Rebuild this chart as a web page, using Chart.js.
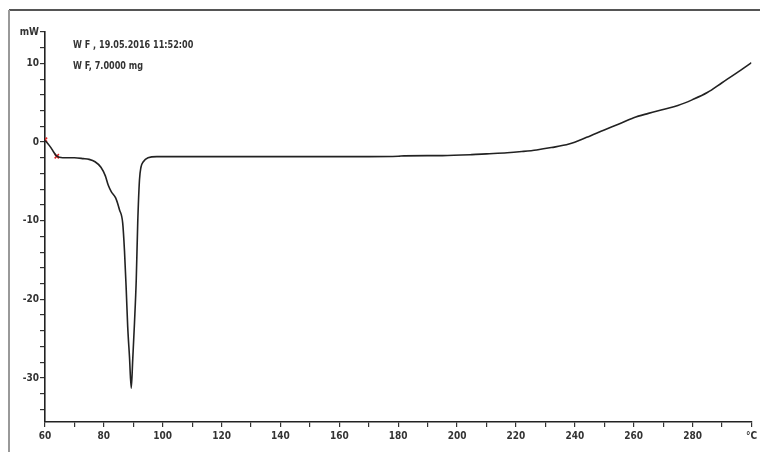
<!DOCTYPE html>
<html>
<head>
<meta charset="utf-8">
<script src="https://cdn.jsdelivr.net/npm/chart.js@4/dist/chart.umd.min.js"></script>
<style>
  html, body { margin: 0; padding: 0; background: #fff; }
  #wrap { width: 760px; height: 452px; }
</style>
</head>
<body>
<div id="wrap"><canvas id="dscChart" width="760" height="452"></canvas></div>
<script>
// DSC curve, temperature (°C) vs heat flow (mW)
const temps = [60, 61, 62, 63, 64, 66, 70, 73, 75, 77, 79, 80.5, 81.5, 82.5, 84, 85.3,
  86.4, 87.0, 87.6, 88.1, 88.7, 89.3, 89.8, 90.4, 91.0, 91.5, 92.1, 92.6, 93.4, 95, 98,
  110, 130, 150, 170, 180, 182, 195, 205, 210, 217, 222, 227, 232, 238, 244, 250, 255,
  260, 265, 270, 275, 280, 285, 290, 295, 300];
const heatFlow = [0.2, -0.2, -0.7, -1.3, -1.8, -2.0, -2.0, -2.1, -2.2, -2.5, -3.2, -4.3,
  -5.5, -6.3, -7.1, -8.6, -10.3, -13.8, -18.8, -23.5, -27.3, -31.3, -27.7, -23.0, -17.5,
  -10.3, -4.8, -3.2, -2.5, -2.0, -1.85, -1.85, -1.85, -1.85, -1.85, -1.8, -1.75, -1.72,
  -1.6, -1.5, -1.36, -1.2, -1.0, -0.7, -0.25, 0.6, 1.55, 2.3, 3.1, 3.65, 4.15, 4.65, 5.4,
  6.3, 7.55, 8.8, 10.1];
// red evaluation markers
const markerTemps = [60, 64];
const markerFlow = [0.3, -1.8];
const yTickLabels = { 14: "mW", 10: "10", 0: "0", "-10": "-10", "-20": "-20", "-30": "-30" };
const headerLines = ["W F , 19.05.2016 11:52:00", "W F, 7.0000 mg"];

const fontFamily = "'DejaVu Sans Condensed', sans-serif";

const framePlugin = {
  id: "frame",
  beforeDraw(chart) {
    const c = chart.ctx;
    c.save();
    c.fillStyle = "#fff";
    c.fillRect(0, 0, chart.width, chart.height);
    c.strokeStyle = "#555";
    c.lineWidth = 2;
    c.beginPath();
    c.moveTo(9, 10);
    c.lineTo(chart.width, 10);
    c.stroke();
    c.strokeStyle = "#999";
    c.beginPath();
    c.moveTo(9, 10);
    c.lineTo(9, chart.height);
    c.stroke();
    c.restore();
  },
  afterDraw(chart) {
    const c = chart.ctx;
    c.save();
    c.fillStyle = "#333";
    c.font = "bold 10px " + fontFamily;
    c.textBaseline = "middle";
    c.translate(73, 0);
    c.scale(0.9, 1);
    headerLines.forEach((t, i) => c.fillText(t, 0, 45 + i * 21));
    c.restore();
  }
};

function toPoints(xs, ys) {
  return xs.map((x, i) => ({ x: x, y: ys[i] }));
}

new Chart(document.getElementById("dscChart"), {
  type: "line",
  data: {
    datasets: [
      {
        data: toPoints(temps, heatFlow),
        borderColor: "#222",
        borderWidth: 1.6,
        pointRadius: 0,
        cubicInterpolationMode: "monotone",
        fill: false,
      },
      {
        data: toPoints(markerTemps, markerFlow),
        showLine: false,
        pointStyle: "crossRot",
        pointRadius: 3,
        pointBorderColor: "#e02020",
        pointBorderWidth: 1.5,
      },
    ],
  },
  options: {
    responsive: false,
    animation: false,
    layout: { padding: { top: 32, right: 4, left: 0, bottom: 0 } },
    plugins: {
      legend: { display: false },
      tooltip: { enabled: false },
    },
    scales: {
      x: {
        type: "linear",
        min: 60,
        max: 300,
        afterFit(scale) { scale.height = 30; },
        grid: { drawOnChartArea: false, drawTicks: true, tickLength: 5, color: "#333", lineWidth: 1.2 },
        border: { display: true, color: "#222", width: 1.6 },
        ticks: {
          stepSize: 10,
          includeBounds: false,
          autoSkip: false,
          maxRotation: 0,
          padding: 3,
          color: "#333",
          font: { family: fontFamily, size: 10, weight: "bold" },
          callback: (v) => (v === 300 ? "°C" : v % 20 === 0 ? String(v) : ""),
        },
      },
      y: {
        min: -35.6,
        max: 14,
        afterFit(scale) { scale.width = 45; },
        grid: { drawOnChartArea: false, drawTicks: true, tickLength: 5, color: "#333", lineWidth: 1.2 },
        border: { display: true, color: "#222", width: 1.6 },
        ticks: {
          stepSize: 2,
          includeBounds: false,
          autoSkip: false,
          padding: 1,
          color: "#333",
          font: { family: fontFamily, size: 10, weight: "bold" },
          callback: (v) => yTickLabels[v] || "",
        },
      },
    },
  },
  plugins: [framePlugin],
});
</script>
</body>
</html>
